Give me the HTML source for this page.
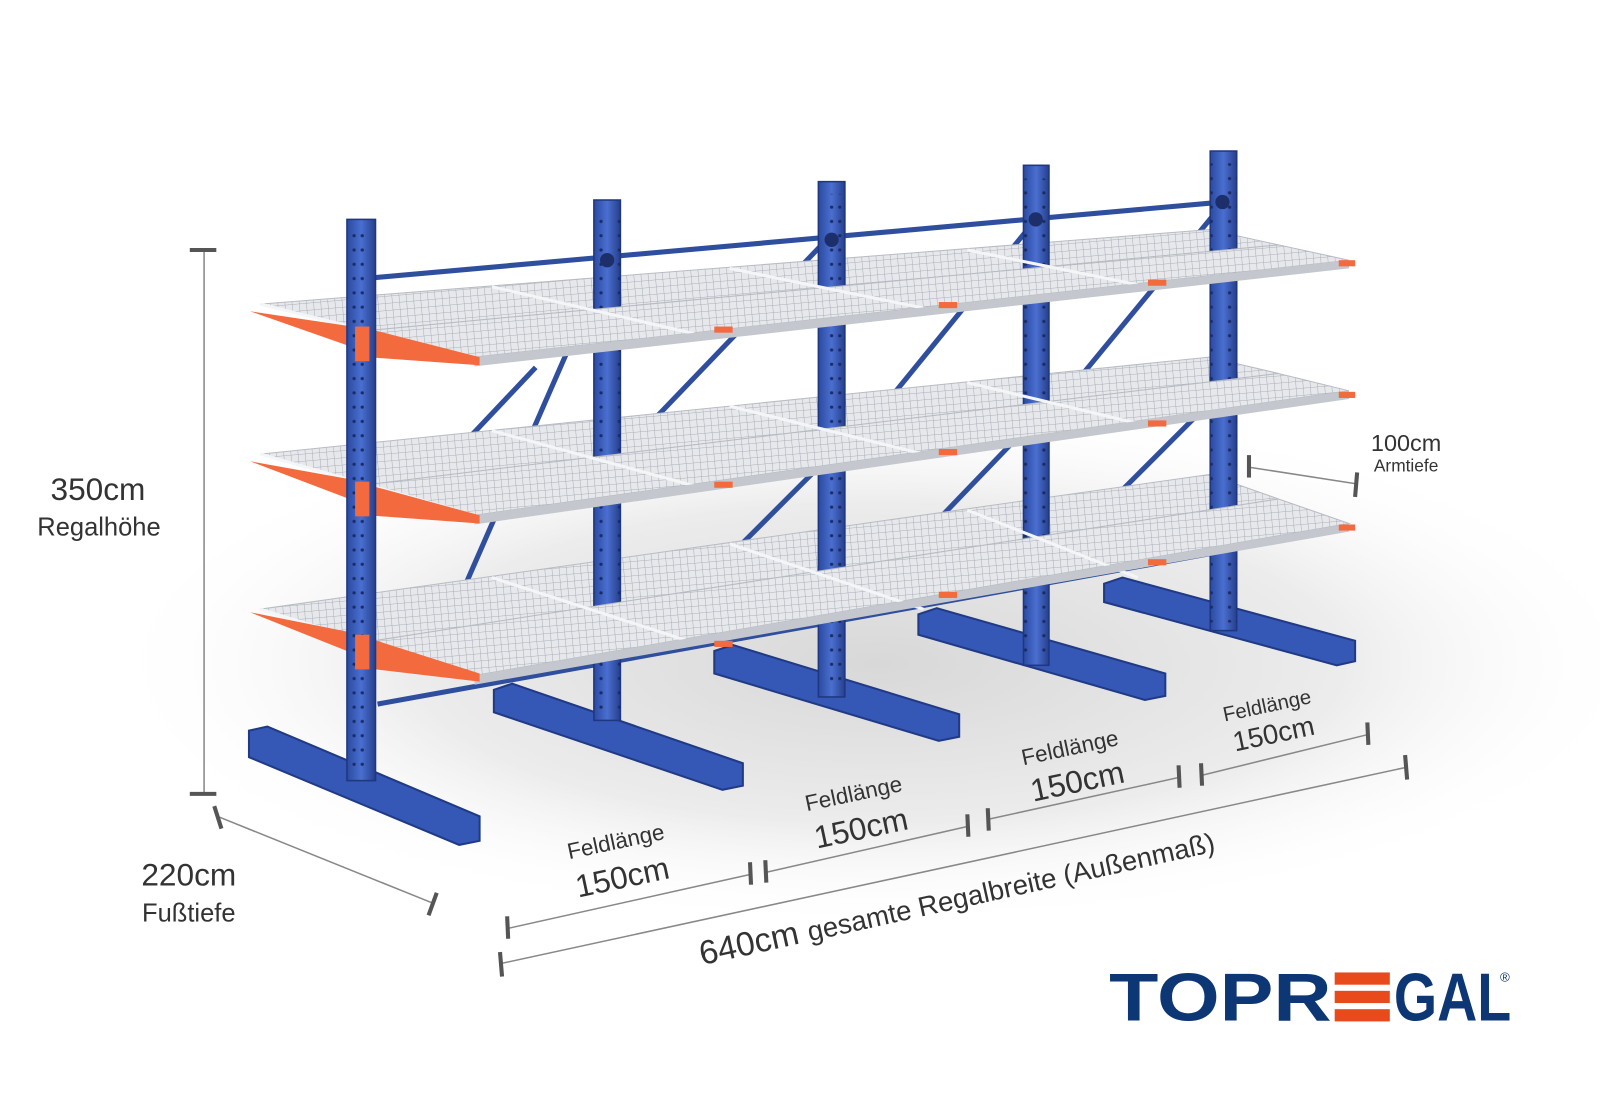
<!DOCTYPE html>
<html><head><meta charset="utf-8"><style>
html,body{margin:0;padding:0;background:#fff;width:1600px;height:1100px;overflow:hidden}
svg{display:block}
text{font-family:"Liberation Sans",sans-serif;fill:#333}
</style></head><body>
<svg width="1600" height="1100" viewBox="0 0 1568 1078" preserveAspectRatio="none" xmlns="http://www.w3.org/2000/svg">
<defs>
<radialGradient id="fl" cx="0.5" cy="0.5" r="0.5">
<stop offset="0" stop-color="#d8d8d8"/><stop offset="0.6" stop-color="#ececec"/><stop offset="1" stop-color="#fff" stop-opacity="0"/>
</radialGradient>
<pattern id="mesh" width="7" height="7" patternUnits="userSpaceOnUse" patternTransform="rotate(-5)">
<rect width="7" height="7" fill="#e6e8eb"/><path d="M0 0H7M0 0V7" stroke="#a9aeb6" stroke-width="1"/>
</pattern>
<pattern id="holes" width="26" height="14" patternUnits="userSpaceOnUse">
<circle cx="9" cy="7" r="1.6" fill="#1a2c66"/><circle cx="17" cy="7" r="1.6" fill="#1a2c66"/>
</pattern>
<linearGradient id="col" x1="0" x2="1">
<stop offset="0" stop-color="#2b4aa0"/><stop offset="0.5" stop-color="#4a6fd0"/><stop offset="1" stop-color="#263f8c"/>
</linearGradient>
</defs>
<rect width="1568" height="1078" fill="#fff"/>
<ellipse cx="860" cy="650" rx="760" ry="260" fill="url(#fl)"/>

<!-- rails & braces -->
<g stroke="#2f4f9e" stroke-width="5" fill="none">
<line x1="368" y1="272" x2="1198" y2="198"/>
<line x1="370" y1="690" x2="1200" y2="540"/>
<line x1="440" y1="610" x2="595" y2="255"/>
<line x1="618" y1="435" x2="810" y2="235"/>
<line x1="690" y1="570" x2="810" y2="450"/>
<line x1="840" y1="430" x2="1015" y2="215"/>
<line x1="890" y1="540" x2="1015" y2="410"/>
<line x1="1050" y1="380" x2="1198" y2="200"/>
<line x1="1090" y1="490" x2="1190" y2="390"/>
<line x1="440" y1="450" x2="525" y2="360"/>
</g>

<!-- bases -->
<g fill="#3557b5" stroke="#203a85" stroke-width="2">
<polygon points="1082,572 1100,566 1328,628 1328,648 1310,652 1082,590"/>
<polygon points="900,602 918,596 1142,660 1142,682 1122,686 900,622"/>
<polygon points="700,638 718,632 940,700 940,722 920,726 700,660"/>
<polygon points="484,676 502,670 728,748 728,770 708,774 484,698"/>
<polygon points="244,716 262,712 470,800 470,824 450,828 244,742"/>
</g>

<!-- shelves back halves -->
<g stroke="#b8bcc2">
<polygon points="255,597 1185,465 1253,489 360,629" fill="url(#mesh)"/>
<polygon points="255,445 1185,350 1253,366 360,475" fill="url(#mesh)"/>
<polygon points="255,298 1185,225 1253,240 360,324" fill="url(#mesh)"/>
</g>

<!-- back columns -->
<g fill="url(#col)" stroke="#1f3780" stroke-width="1.5">
<rect x="1186" y="148" width="26" height="470"/>
<rect x="1003" y="162" width="25" height="490"/>
<rect x="802" y="178" width="26" height="505"/>
<rect x="582" y="196" width="26" height="510"/>
</g>
<g fill="url(#holes)">
<rect x="1186" y="160" width="26" height="450"/>
<rect x="1003" y="175" width="25" height="470"/>
<rect x="802" y="190" width="26" height="485"/>
<rect x="582" y="208" width="26" height="490"/>
</g>
<g fill="#1d2f6a">
<circle cx="595" cy="255" r="7"/><circle cx="815" cy="235" r="7"/><circle cx="1015" cy="215" r="7"/><circle cx="1198" cy="198" r="7"/>
</g>

<!-- shelves front halves -->
<g stroke="#b8bcc2">
<polygon points="360,629 1253,489 1322,513 465,662" fill="url(#mesh)"/>
<polygon points="360,475 1253,366 1322,383 465,505" fill="url(#mesh)"/>
<polygon points="360,324 1253,240 1322,255 465,350" fill="url(#mesh)"/>
</g>
<g stroke="#f4f5f7" stroke-width="3">
<line x1="465" y1="662" x2="255" y2="597"/><line x1="680" y1="630" x2="482" y2="566"/><line x1="905" y1="597" x2="715" y2="533"/><line x1="1115" y1="566" x2="948" y2="500"/>
<line x1="465" y1="505" x2="255" y2="445"/><line x1="680" y1="476" x2="482" y2="422"/><line x1="905" y1="445" x2="715" y2="398"/><line x1="1115" y1="415" x2="948" y2="375"/>
<line x1="465" y1="350" x2="255" y2="298"/><line x1="680" y1="327" x2="482" y2="281"/><line x1="905" y1="302" x2="715" y2="263"/><line x1="1115" y1="279" x2="948" y2="245"/>
</g>
<g fill="#c4c8ce">
<polygon points="465,662 1322,513 1322,521 465,671"/>
<polygon points="465,505 1322,383 1322,391 465,514"/>
<polygon points="465,350 1322,255 1322,263 465,359"/>
</g>

<!-- orange arms -->
<g fill="#f26a3d">
<polygon points="245,305 345,320 345,340"/>
<polygon points="360,322 470,350 470,358 360,350"/>
<polygon points="245,452 345,470 345,490"/>
<polygon points="360,475 470,505 470,513 360,505"/>
<polygon points="245,600 345,620 345,640"/>
<polygon points="360,625 470,660 470,668 360,655"/>
<g>
<rect x="700" y="320" width="18" height="6"/><rect x="920" y="296" width="18" height="6"/><rect x="1125" y="274" width="18" height="6"/><rect x="1312" y="255" width="16" height="6"/>
<rect x="700" y="472" width="18" height="6"/><rect x="920" y="440" width="18" height="6"/><rect x="1125" y="412" width="18" height="6"/><rect x="1312" y="384" width="16" height="6"/>
<rect x="700" y="628" width="18" height="6"/><rect x="920" y="580" width="18" height="6"/><rect x="1125" y="548" width="18" height="6"/><rect x="1312" y="514" width="16" height="6"/>
</g>
</g>

<!-- front column -->
<rect x="340" y="215" width="28" height="550" fill="url(#col)" stroke="#1f3780" stroke-width="1.5"/>
<rect x="341" y="228" width="26" height="530" fill="url(#holes)"/>
<g fill="#f26a3d"><rect x="348" y="320" width="14" height="34"/><rect x="348" y="472" width="14" height="34"/><rect x="348" y="622" width="14" height="34"/></g>

<!-- dimension lines -->
<g stroke="#555" stroke-width="3" fill="none">
<line x1="200" y1="246" x2="200" y2="778" stroke-width="1.5" stroke="#888"/>
<line x1="186" y1="245" x2="212" y2="245" stroke-width="4"/>
<line x1="186" y1="778" x2="212" y2="778" stroke-width="4"/>
<line x1="213" y1="800" x2="424" y2="885" stroke-width="1.5" stroke="#888"/>
<line x1="210" y1="790" x2="217" y2="812" stroke-width="4"/>
<line x1="428" y1="875" x2="420" y2="897" stroke-width="4"/>
<line x1="497" y1="910" x2="735" y2="857" stroke-width="1.5" stroke="#888"/>
<line x1="750" y1="855" x2="948" y2="810" stroke-width="1.5" stroke="#888"/>
<line x1="968" y1="803" x2="1155" y2="762" stroke-width="1.5" stroke="#888"/>
<line x1="1177" y1="760" x2="1340" y2="720" stroke-width="1.5" stroke="#888"/>
<line x1="492" y1="944" x2="1378" y2="752" stroke-width="1.5" stroke="#888"/>
<line x1="497" y1="898" x2="498" y2="920" stroke-width="4"/>
<line x1="735" y1="845" x2="736" y2="867" stroke-width="4"/>
<line x1="750" y1="843" x2="751" y2="865" stroke-width="4"/>
<line x1="948" y1="798" x2="949" y2="820" stroke-width="4"/>
<line x1="968" y1="792" x2="969" y2="814" stroke-width="4"/>
<line x1="1155" y1="750" x2="1156" y2="772" stroke-width="4"/>
<line x1="1177" y1="748" x2="1178" y2="770" stroke-width="4"/>
<line x1="1340" y1="708" x2="1341" y2="730" stroke-width="4"/>
<line x1="490" y1="933" x2="492" y2="957" stroke-width="4"/>
<line x1="1377" y1="740" x2="1379" y2="764" stroke-width="4"/>
<line x1="1225" y1="458" x2="1328" y2="474" stroke-width="1.5" stroke="#888"/>
<line x1="1224" y1="446" x2="1224" y2="468" stroke-width="4"/>
<line x1="1330" y1="463" x2="1328" y2="487" stroke-width="4"/>
</g>

<!-- labels -->
<text x="96" y="490" font-size="31" text-anchor="middle">350cm</text>
<text x="97" y="525" font-size="25" text-anchor="middle">Regalhöhe</text>
<text x="185" y="868" font-size="31" text-anchor="middle">220cm</text>
<text x="185" y="903" font-size="25" text-anchor="middle">Fußtiefe</text>
<text x="1378" y="442" font-size="23" text-anchor="middle">100cm</text>
<text x="1378" y="462" font-size="17" text-anchor="middle">Armtiefe</text>
<g text-anchor="middle">
<text transform="translate(605,832) rotate(-12)" font-size="22">Feldlänge</text>
<text transform="translate(612,870) rotate(-12)" font-size="31">150cm</text>
<text transform="translate(838,785) rotate(-12)" font-size="22">Feldlänge</text>
<text transform="translate(846,822) rotate(-12)" font-size="31">150cm</text>
<text transform="translate(1050,740) rotate(-12)" font-size="22">Feldlänge</text>
<text transform="translate(1058,776) rotate(-12)" font-size="31">150cm</text>
<text transform="translate(1243,698) rotate(-12)" font-size="20">Feldlänge</text>
<text transform="translate(1250,728) rotate(-12)" font-size="27">150cm</text>
<text transform="translate(940,890) rotate(-12.5)" font-size="33">640cm <tspan font-size="27">gesamte Regalbreite  (Außenmaß)</tspan></text>
</g>

<!-- logo -->
<text x="1087" y="1000" font-size="66" font-weight="bold" style="fill:#0d3675" textLength="218" lengthAdjust="spacingAndGlyphs">TOPR</text>
<g fill="#e84a1b"><rect x="1308" y="953" width="54" height="12"/><rect x="1308" y="971" width="54" height="12"/><rect x="1308" y="989" width="54" height="12"/></g>
<text x="1366" y="1000" font-size="66" font-weight="bold" style="fill:#0d3675" textLength="115" lengthAdjust="spacingAndGlyphs">GAL</text>
<text x="1470" y="962" font-size="13" style="fill:#0d3675">®</text>
</svg>
</body></html>
